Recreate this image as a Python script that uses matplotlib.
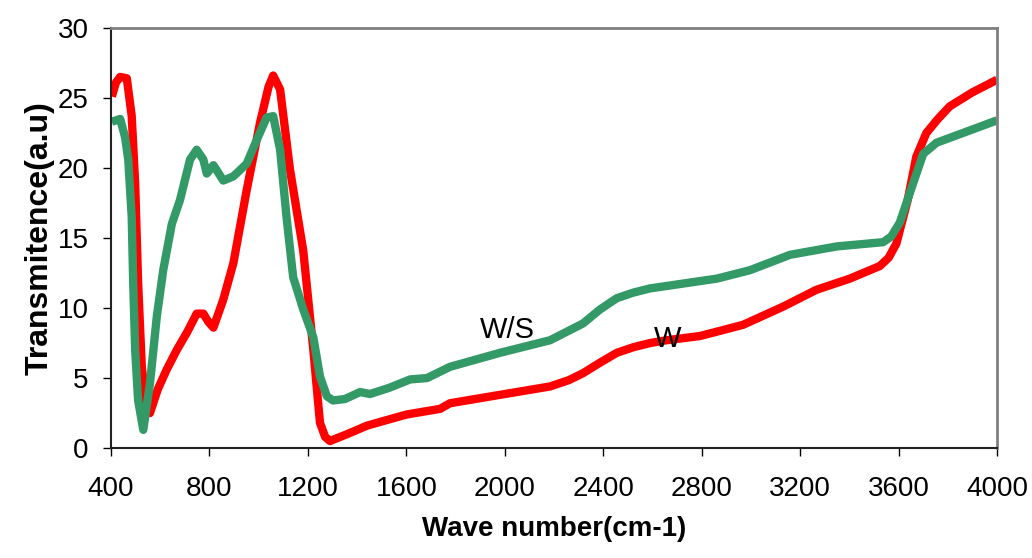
import numpy as np
import matplotlib
matplotlib.use('Agg')
from matplotlib import pyplot as plt

plt.rcParams['font.family'] = ['Liberation Sans', 'DejaVu Sans']

# W (red)
w_x = [403, 420, 437, 464, 484, 498, 510, 525, 545, 558, 590, 626, 667, 710, 748, 775, 796, 816,
       856, 897, 951, 1005, 1040, 1059, 1087, 1127, 1181, 1222, 1249, 1270, 1290, 1303, 1360,
       1440, 1520, 1602, 1737, 1777, 1980, 2184, 2260, 2318, 2387, 2455, 2522, 2590, 2658,
       2793, 2968, 3131, 3266, 3402, 3524, 3560, 3591, 3637, 3672, 3713, 3760, 3808, 3900, 4000]
w_y = [25.1, 26.1, 26.5, 26.4, 23.7, 18.9, 11.8, 5.8, 2.6, 2.5, 4.2, 5.6, 7.0, 8.3, 9.6, 9.6, 9.0, 8.6,
       10.6, 13.2, 18.4, 23.2, 25.8, 26.6, 25.6, 19.9, 14.1, 7.0, 1.8, 0.8, 0.5, 0.6, 1.0,
       1.6, 2.0, 2.4, 2.8, 3.2, 3.8, 4.4, 4.85, 5.35, 6.1, 6.8, 7.2, 7.5, 7.7,
       8.0, 8.8, 10.1, 11.3, 12.1, 13.0, 13.6, 14.6, 17.7, 20.8, 22.5, 23.5, 24.4, 25.4, 26.3]

# W/S (green)
ws_x = [403, 437, 457, 470, 484, 490, 498, 510, 531, 558, 586, 612, 647, 680, 721, 748,
        775, 789, 816, 856, 897, 951, 992, 1032, 1059, 1087, 1113, 1140, 1181, 1222, 1249,
        1277, 1302, 1350, 1412, 1452, 1530, 1615, 1684, 1777, 1980, 2184, 2318, 2387, 2455,
        2522, 2590, 2862, 2996, 3159, 3350, 3537, 3570, 3605, 3659, 3700, 3754, 3862, 4000]
ws_y = [23.3, 23.5, 22.2, 20.6, 16.5, 11.8, 7.0, 3.4, 1.3, 4.6, 9.4, 12.7, 16.0, 17.7, 20.6, 21.3,
        20.6, 19.6, 20.2, 19.1, 19.4, 20.3, 22.0, 23.6, 23.7, 21.3, 16.5, 12.2, 9.9, 7.9, 5.1,
        3.7, 3.4, 3.5, 4.0, 3.86, 4.3, 4.9, 5.0, 5.8, 6.8, 7.7, 8.9, 9.9, 10.7,
        11.1, 11.4, 12.1, 12.7, 13.8, 14.4, 14.7, 15.1, 16.1, 18.9, 21.0, 21.8, 22.5, 23.4]

x_ticks = [400, 800, 1200, 1600, 2000, 2400, 2800, 3200, 3600, 4000]
y_ticks = [0, 5, 10, 15, 20, 25, 30]

fig = plt.figure(figsize=(10.32, 5.58), dpi=100)
ax = fig.add_axes([0.1076, 0.197, 0.8585, 0.753])

ax.plot(w_x, w_y, color='#FF0000', lw=6, solid_joinstyle='round', solid_capstyle='butt')
ax.plot(ws_x, ws_y, color='#339966', lw=6, solid_joinstyle='round', solid_capstyle='butt')

ax.text(2009, 8.4, 'W/S', fontsize=21, ha='center', va='center')
ax.text(2663, 7.8, 'W', fontsize=21, ha='center', va='center')

ax.set_xlim(400, 4000)
ax.set_ylim(0, 30)
ax.set_xticks(x_ticks)
ax.set_yticks(y_ticks)
ax.tick_params(labelsize=20, direction='out', length=6, width=1, pad=10)
ax.tick_params(axis='x', pad=14)
ax.spines['top'].set_color('#808080')
ax.spines['right'].set_color('#808080')
ax.spines['top'].set_linewidth(2)
ax.spines['right'].set_linewidth(2)
ax.spines['left'].set_color('#222222')
ax.spines['bottom'].set_color('#222222')
ax.spines['left'].set_linewidth(1.5)
ax.spines['bottom'].set_linewidth(1.5)

ax.set_xlabel('Wave number(cm-1)', fontsize=20, fontweight='bold', labelpad=10)
ax.set_ylabel('Transmitence(a.u)', fontsize=23, fontweight='bold', labelpad=2)

fig.savefig('out.png', dpi=100)
